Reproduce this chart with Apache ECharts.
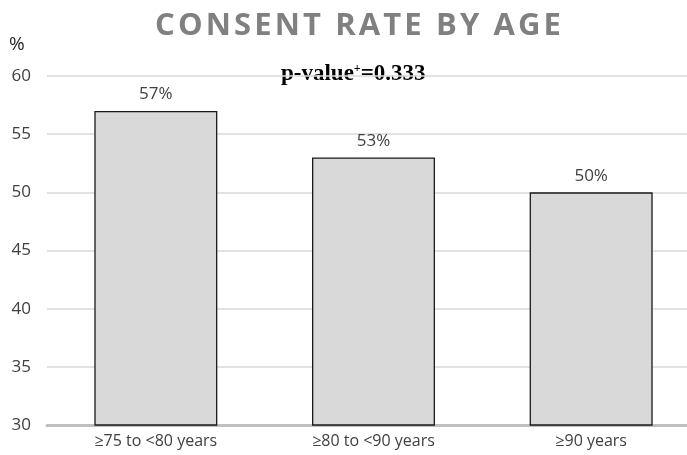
<!DOCTYPE html>
<html>
<head>
<meta charset="utf-8">
<script src="https://cdn.jsdelivr.net/npm/echarts@6/dist/echarts.min.js"></script>
<style>
  html, body { margin: 0; padding: 0; background: #fff; overflow: hidden; }
  #chart { width: 700px; height: 455px; }
</style>
</head>
<body>
<div id="chart"></div>
<script>
// Consent rate (%) by age group
const categories = ['≥75 to <80 years', '≥80 to <90 years', '≥90 years'];
const consentRate = [57, 53, 50];
const yTicks = [30, 35, 40, 45, 50, 55, 60];
const titleText = 'CONSENT RATE BY AGE';
const pValue = '0.333';

const chart = echarts.init(document.getElementById('chart'));

// spread the title letters apart with hair spaces
const spacedTitle = titleText.split('').join('\u200A');

chart.setOption({
  animation: false,
  backgroundColor: '#ffffff',
  title: {
    text: spacedTitle,
    left: 353,
    textAlign: 'center',
    top: 6,
    textStyle: {
      fontFamily: 'Open Sans',
      fontWeight: 'bold',
      fontSize: 31,
      color: '#808080'
    }
  },
  graphic: [
    {
      type: 'text',
      left: 9,
      top: 35,
      style: { text: '%', font: '19px "Open Sans"', fill: '#262626' }
    },
    {
      type: 'text',
      left: 281,
      top: 63,
      style: {
        text: '{a|p-value}{s|+}{a|=' + pValue + '}',
        rich: {
          a: { fontFamily: 'Liberation Serif', fontWeight: 'bold', fontSize: 23, color: '#000' },
          s: { fontFamily: 'Liberation Serif', fontWeight: 'bold', fontSize: 12, verticalAlign: 'top', color: '#000', padding: [0, 0, 9, 0] }
        }
      }
    }
  ],
  grid: {
    left: 47,
    top: 76,
    width: 653,
    height: 349,
    containLabel: false
  },
  xAxis: {
    type: 'category',
    data: categories,
    axisTick: { show: false },
    axisLine: { show: true, lineStyle: { color: '#bfbfbf', width: 3 } },
    axisLabel: {
      fontFamily: 'Open Sans',
      fontSize: 16,
      color: '#404040',
      margin: 8
    }
  },
  yAxis: {
    type: 'value',
    min: yTicks[0],
    max: yTicks[yTicks.length - 1],
    interval: 5,
    axisLine: { show: false },
    axisTick: { show: false },
    splitLine: { lineStyle: { color: '#d9d9d9', width: 1.5 } },
    axisLabel: {
      fontFamily: 'Open Sans',
      fontSize: 17,
      color: '#404040',
      margin: 16
    }
  },
  series: [{
    type: 'bar',
    data: consentRate,
    barWidth: 123,
    itemStyle: {
      color: '#d9d9d9',
      borderColor: '#1a1a1a',
      borderWidth: 1.3
    },
    label: {
      show: true,
      position: 'top',
      distance: 8,
      formatter: p => p.value + '%',
      fontFamily: 'Open Sans',
      fontSize: 17,
      color: '#404040'
    }
  }]
});
</script>
</body>
</html>
